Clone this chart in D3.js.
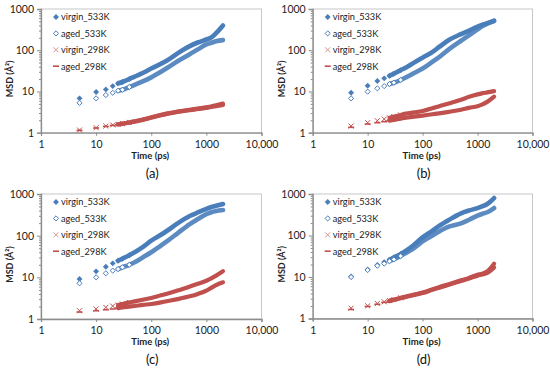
<!DOCTYPE html>
<html>
<head>
<meta charset="utf-8">
<script src="https://cdn.jsdelivr.net/npm/d3@7"></script>
<style>
  body { margin: 0; background: #fff; }
  text { font-family: Lato, "Open Sans", sans-serif; }
</style>
</head>
<body>
<svg id="chart" width="550" height="368"></svg>
<script>
// sample times (ps)
const times = [5, 10, 15, 20, 25, 30, 40, 50, 70, 100, 150, 200, 300, 500, 700, 1000, 1200, 1500, 2000];
const seriesNames = ['virgin_533K', 'aged_533K', 'virgin_298K', 'aged_298K'];
const panelLabels = ['(a)', '(b)', '(c)', '(d)'];
const xTicks = [1, 10, 100, 1000, 10000];
const xTickLabels = ['1', '10', '100', '1000', '10,000'];
const yTicks = [1, 10, 100, 1000];

// panel (a)
const aVirgin533 = [6.8, 9.7, 11.2, 13.5, 15.7, 17, 20, 23, 28, 36, 47, 58, 84, 126, 154, 182, 200, 260, 400];
const aAged533 = [5.3, 6.8, 8.2, 9.3, 10.4, 11, 12.8, 14.5, 17.5, 22, 30, 38, 54, 80, 105, 138, 150, 165, 176];
const aVirgin298 = [1.16, 1.32, 1.45, 1.54, 1.6, 1.66, 1.78, 1.88, 2.08, 2.36, 2.7, 2.95, 3.25, 3.6, 3.85, 4.1, 4.3, 4.6, 5.1];
const aAged298 = [1.14, 1.3, 1.42, 1.5, 1.58, 1.64, 1.76, 1.86, 2.05, 2.3, 2.65, 2.9, 3.2, 3.5, 3.75, 4.0, 4.2, 4.4, 4.7];

// panel (b)
const bVirgin533 = [9.3, 13.8, 17.9, 20.8, 24, 27, 33, 38, 50, 66, 90, 120, 177, 246, 300, 373, 410, 450, 510];
const bAged533 = [6.8, 9.9, 11.9, 13.5, 15.1, 16.3, 19, 22, 28, 36, 52, 68, 105, 170, 230, 320, 380, 440, 520];
const bVirgin298 = [1.45, 1.75, 1.95, 2.14, 2.3, 2.45, 2.7, 2.9, 3.1, 3.35, 3.9, 4.4, 5.1, 6.3, 7.4, 8.5, 9.0, 9.5, 10.2];
const bAged298 = [1.35, 1.62, 1.75, 1.85, 1.95, 2.03, 2.2, 2.3, 2.45, 2.6, 2.8, 2.95, 3.2, 3.6, 4.0, 4.4, 4.8, 5.6, 7.5];

// panel (c)
const cVirgin533 = [9.1, 13.9, 18, 21.7, 25, 28, 34, 40, 53, 76, 105, 135, 198, 296, 360, 437, 480, 520, 576];
const cAged533 = [7.2, 10, 12.5, 14.5, 15.8, 17.4, 20, 23, 30, 40, 58, 76, 114, 190, 250, 330, 360, 390, 413];
const cVirgin298 = [1.58, 1.74, 1.9, 2.05, 2.17, 2.29, 2.5, 2.65, 2.9, 3.2, 3.7, 4.1, 4.8, 6.0, 7.0, 8.3, 9.3, 11, 14];
const cAged298 = [1.47, 1.58, 1.67, 1.74, 1.82, 1.9, 1.98, 2.05, 2.18, 2.29, 2.5, 2.7, 3.0, 3.5, 4.0, 4.8, 5.5, 6.5, 7.6];

// panel (d)
const dVirgin533 = [10.3, 15.2, 19.4, 22.9, 26, 29.6, 36, 43, 60, 90, 130, 170, 236, 342, 400, 458, 500, 575, 800];
const dAged533 = [10, 14.7, 18.7, 21, 24, 26.5, 32, 38, 50, 72, 100, 125, 163, 196, 240, 300, 330, 363, 460];
const dVirgin298 = [1.77, 2.02, 2.3, 2.52, 2.7, 2.87, 3.15, 3.4, 3.8, 4.2, 5.0, 5.7, 6.7, 8.3, 9.5, 11.3, 12, 13.6, 21];
const dAged298 = [1.65, 1.95, 2.2, 2.45, 2.62, 2.8, 3.08, 3.3, 3.7, 4.1, 4.9, 5.5, 6.5, 8.0, 9.2, 10.8, 11.5, 12.5, 17];

const panelData = [
  [aVirgin533, aAged533, aVirgin298, aAged298],
  [bVirgin533, bAged533, bVirgin298, bAged298],
  [cVirgin533, cAged533, cVirgin298, cAged298],
  [dVirgin533, dAged533, dVirgin298, dAged298]
];

const blue = '#4a7ebb';
const red = '#c0504d';
const axisColor = '#8c8c8c';
const seriesColors = [blue, blue, red, red];

// plot area boxes [left, top, right, bottom]
const boxes = [
  [41, 9, 261.5, 132.7],
  [312.7, 9, 532.5, 132.7],
  [41, 194, 261.5, 319],
  [312.7, 194, 532.5, 318.5]
];

const svg = d3.select('#chart');

function drawMarker(g, kind, x, y, color) {
  if (kind === 0) {
    g.append('path').attr('d', d3.symbol(d3.symbolDiamond2, 22)())
      .attr('transform', `translate(${x},${y})`).attr('fill', color);
  } else if (kind === 1) {
    g.append('path').attr('d', d3.symbol(d3.symbolDiamond2, 17)())
      .attr('transform', `translate(${x},${y})`)
      .attr('fill', '#fff').attr('stroke', color).attr('stroke-width', 1);
  } else if (kind === 2) {
    g.append('path').attr('d', d3.symbol(d3.symbolTimes, 18)())
      .attr('transform', `translate(${x},${y})`)
      .attr('fill', 'none').attr('stroke', color).attr('stroke-width', 1);
  } else {
    g.append('line').attr('x1', x - 3).attr('x2', x + 3).attr('y1', y).attr('y2', y)
      .attr('stroke', color).attr('stroke-width', 1.6);
  }
}

panelData.forEach((series, p) => {
  const [l, t, r, b] = boxes[p];
  const g = svg.append('g');

  const x = d3.scaleLog().domain([1, 10000]).range([l, r]);
  const y = d3.scaleLog().domain([1, 1000]).range([b, t]);

  // plot frame
  g.append('rect').attr('x', l).attr('y', t).attr('width', r - l).attr('height', b - t)
    .attr('fill', 'none').attr('stroke', '#c8c8c8').attr('stroke-width', 1);

  // x axis
  const xAxis = g.append('g').attr('transform', `translate(0,${b})`)
    .call(d3.axisBottom(x).tickValues(xTicks).tickSize(3)
      .tickFormat((d, i) => xTickLabels[i]));
  xAxis.select('.domain').attr('stroke', axisColor).attr('stroke-width', 1.3);
  xAxis.selectAll('.tick line').attr('stroke', axisColor);
  xAxis.selectAll('.tick text').attr('dy', '0.9em').attr('font-size', 10.5)
    .attr('fill', '#222').attr('font-family', 'Lato, sans-serif');

  // y axis with log minor ticks
  const minor = [];
  yTicks.slice(0, -1).forEach(v => { for (let k = 2; k < 10; k++) minor.push(v * k); });
  const yMinor = g.append('g').attr('transform', `translate(${l},0)`)
    .call(d3.axisLeft(y).tickValues(minor).tickSize(2).tickFormat(''));
  yMinor.select('.domain').remove();
  yMinor.selectAll('.tick line').attr('stroke', axisColor);
  const yAxis = g.append('g').attr('transform', `translate(${l},0)`)
    .call(d3.axisLeft(y).tickValues(yTicks).tickSize(4).tickFormat(d3.format('d')));
  yAxis.select('.domain').attr('stroke', axisColor).attr('stroke-width', 1.3);
  yAxis.selectAll('.tick line').attr('stroke', axisColor);
  yAxis.selectAll('.tick text').attr('font-size', 10.5).attr('fill', '#222')
    .attr('font-family', 'Lato, sans-serif');

  // titles
  g.append('text').attr('x', (l + r) / 2 - 1).attr('y', b + 26)
    .attr('text-anchor', 'middle').attr('font-size', 9.5).attr('font-weight', 'bold')
    .attr('fill', '#222').text('Time (ps)');
  g.append('text')
    .attr('transform', `translate(${l - 28},${(t + b) / 2 + 8}) rotate(-90)`)
    .attr('text-anchor', 'middle').attr('font-size', 9).attr('font-weight', 'bold')
    .attr('fill', '#222').text('MSD (Å²)');
  g.append('text').attr('x', (l + r) / 2 + 1).attr('y', b + 45)
    .attr('text-anchor', 'middle').attr('font-size', 13)
    .attr('font-family', '"Liberation Serif", serif').attr('fill', '#111')
    .text(panelLabels[p]);

  // dense sampling shows up as a thick band; draw it first, then the markers
  series.forEach((vals, s) => {
    const pts = times.map((tm, i) => [tm, vals[i]]).filter(d => d[0] >= 25);
    g.append('path').datum(pts)
      .attr('d', d3.line().x(d => x(d[0])).y(d => y(d[1])).curve(d3.curveMonotoneX))
      .attr('fill', 'none').attr('stroke', seriesColors[s])
      .attr('stroke-width', s < 2 ? 4.6 : 4.2).attr('stroke-linecap', 'round')
      .attr('opacity', s === 1 ? 0.9 : 1);
  });
  series.forEach((vals, s) => {
    times.forEach((tm, i) => {
      if (tm <= 40) drawMarker(g, s, x(tm), y(vals[i]), seriesColors[s]);
    });
  });

  // legend
  seriesNames.forEach((name, s) => {
    const ly = t + 8 + s * 16.4;
    drawMarker(g, s, l + 15, ly, s === 2 ? '#d99694' : seriesColors[s]);
    g.append('text').attr('x', l + 20).attr('y', ly + 3.3)
      .attr('font-size', 9.2).attr('fill', '#222').text(name);
  });
});
</script>
</body>
</html>
